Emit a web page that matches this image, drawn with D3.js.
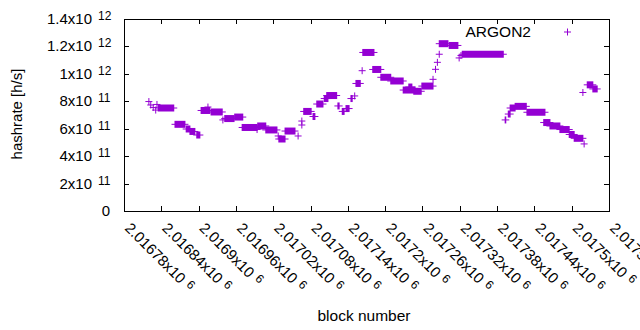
<!DOCTYPE html>
<html>
<head>
<meta charset="utf-8">
<script src="https://cdn.jsdelivr.net/npm/d3@7"></script>
<style>
  body { margin: 0; background: #fff; }
  text { font-family: "Liberation Sans", Arial, sans-serif; }
</style>
</head>
<body>
<div id="chart"></div>
<script>
// runs of blocks with the same hashrate (start block, end block, value in h/s)
const runStart = [2016820, 2016823, 2016827, 2016831, 2016833, 2016835, 2016862, 2016880, 2016886, 2016897,
  2016904, 2016915, 2016920, 2016939, 2016942, 2016958, 2016970, 2016994, 2016995, 2017008,
  2017028, 2017029, 2017039, 2017060, 2017066, 2017066, 2017069, 2017084, 2017090, 2017102,
  2017106, 2017124, 2017131, 2017137, 2017145, 2017151, 2017153, 2017163, 2017164, 2017180,
  2017193, 2017209, 2017229, 2017238, 2017246, 2017259, 2017277, 2017281, 2017284, 2017287,
  2017287, 2017303, 2017319, 2017322, 2017324, 2017393, 2017398, 2017401, 2017409, 2017428,
  2017455, 2017465, 2017481, 2017496, 2017504, 2017520, 2017518, 2017525, 2017534];
const runEnd = [2016820, 2016823, 2016827, 2016831, 2016833, 2016860, 2016878, 2016886, 2016894, 2016902,
  2016918, 2016915, 2016938, 2016939, 2016957, 2016971, 2016994, 2016994, 2017008, 2017026,
  2017028, 2017039, 2017055, 2017060, 2017066, 2017066, 2017081, 2017087, 2017100, 2017108,
  2017122, 2017126, 2017134, 2017142, 2017147, 2017151, 2017160, 2017163, 2017182, 2017193,
  2017209, 2017229, 2017248, 2017243, 2017258, 2017277, 2017277, 2017281, 2017284, 2017287,
  2017301, 2017317, 2017319, 2017322, 2017390, 2017394, 2017401, 2017409, 2017427, 2017457,
  2017465, 2017481, 2017496, 2017504, 2017518, 2017520, 2017518, 2017534, 2017541];
const runValue = [7.98e11, 7.73e11, 7.55e11, 7.36e11, 7.77e11, 7.51e11, 6.32e11, 5.98e11, 5.80e11, 5.54e11,
  7.33e11, 7.58e11, 7.22e11, 6.64e11, 6.74e11, 6.85e11, 6.09e11, 5.94e11, 6.20e11, 5.91e11,
  5.47e11, 5.25e11, 5.83e11, 5.47e11, 6.27e11, 6.56e11, 7.26e11, 6.89e11, 7.80e11, 8.20e11,
  8.42e11, 7.66e11, 7.26e11, 7.47e11, 8.20e11, 8.39e11, 9.30e11, 10.23e11, 11.56e11, 10.32e11,
  9.75e11, 9.48e11, 8.82e11, 9.04e11, 8.73e11, 9.11e11, 9.60e11, 10.33e11, 10.84e11, 11.43e11,
  12.20e11, 12.07e11, 11.16e11, 11.34e11, 11.43e11, 6.64e11, 7.07e11, 7.51e11, 7.63e11, 7.20e11,
  6.45e11, 6.20e11, 5.94e11, 5.58e11, 5.30e11, 4.89e11, 8.64e11, 9.20e11, 8.90e11];

const xTickValues = [2016780, 2016840, 2016900, 2016960, 2017020, 2017080, 2017140,
  2017200, 2017260, 2017320, 2017380, 2017440, 2017500, 2017560];
const xTickLabels = ['2.01678', '2.01684', '2.0169', '2.01696', '2.01702', '2.01708', '2.01714',
  '2.0172', '2.01726', '2.01732', '2.01738', '2.01744', '2.0175', '2.01756'];
const yTickValues = [0, 2e11, 4e11, 6e11, 8e11, 1e12, 1.2e12, 1.4e12];
const yTickMantissa = ['0', '2', '4', '6', '8', '1', '1.2', '1.4'];
const yTickExp = ['', '11', '11', '11', '11', '12', '12', '12'];
const seriesName = 'ARGON2';

const width = 640, height = 330;
const margin = { top: 19, right: 31, bottom: 119, left: 124 };
const color = '#9400d3';
const ps = 3.5; // half size of the + marker

const svg = d3.select('#chart').append('svg')
  .attr('width', width)
  .attr('height', height);

const x = d3.scaleLinear()
  .domain([2016780, 2017560])
  .range([margin.left, width - margin.right]);

const y = d3.scaleLinear()
  .domain([0, 1.4e12])
  .range([height - margin.bottom, margin.top]);

const tick = 5;

// tick marks, mirrored on all four sides
const ticks = svg.append('g').attr('stroke', '#000').attr('stroke-width', 1)
  .attr('shape-rendering', 'crispEdges');
yTickValues.forEach(v => {
  const yy = Math.round(y(v)) + 0.5;
  ticks.append('line').attr('x1', x.range()[0]).attr('x2', x.range()[0] + tick).attr('y1', yy).attr('y2', yy);
  ticks.append('line').attr('x1', x.range()[1]).attr('x2', x.range()[1] - tick).attr('y1', yy).attr('y2', yy);
});
xTickValues.forEach(v => {
  const xx = Math.round(x(v)) + 0.5;
  ticks.append('line').attr('x1', xx).attr('x2', xx).attr('y1', y.range()[0]).attr('y2', y.range()[0] - tick);
  ticks.append('line').attr('x1', xx).attr('x2', xx).attr('y1', y.range()[1]).attr('y2', y.range()[1] + tick);
});

// border
svg.append('rect')
  .attr('x', x.range()[0] + 0.5)
  .attr('y', y.range()[1] + 0.5)
  .attr('width', x.range()[1] - x.range()[0])
  .attr('height', y.range()[0] - y.range()[1])
  .attr('fill', 'none')
  .attr('stroke', '#000')
  .attr('shape-rendering', 'crispEdges');

// y tick labels
yTickValues.forEach((v, i) => {
  if (yTickExp[i] === '') {
    svg.append('text')
      .attr('x', 110).attr('y', y(v) + 5)
      .attr('text-anchor', 'end')
      .attr('font-size', '15px').attr('fill', '#000')
      .text(yTickMantissa[i]);
    return;
  }
  svg.append('text')
    .attr('x', 92).attr('y', y(v) + 5)
    .attr('text-anchor', 'end')
    .attr('font-size', '15px').attr('fill', '#000')
    .text(yTickMantissa[i] + 'x10');
  svg.append('text')
    .attr('x', 98).attr('y', y(v) + 1)
    .attr('font-size', '12px').attr('fill', '#000')
    .text(yTickExp[i]);
});

// x tick labels, rotated
xTickValues.forEach((v, i) => {
  const t = svg.append('text')
    .attr('transform', `translate(${x(v)},${229}) rotate(45)`)
    .attr('font-size', '15px').attr('fill', '#000');
  t.append('tspan').text(xTickLabels[i] + 'x10');
  t.append('tspan').attr('dx', 5).attr('dy', -4).attr('font-size', '12px').text('6');
});

// axis titles
svg.append('text')
  .attr('transform', `translate(${22},${114}) rotate(-90)`)
  .attr('text-anchor', 'middle')
  .attr('font-size', '15px').attr('fill', '#000')
  .text('hashrate [h/s]');

svg.append('text')
  .attr('x', 364).attr('y', 321)
  .attr('text-anchor', 'middle')
  .attr('font-size', '15.5px').attr('fill', '#000')
  .text('block number');

// data: each run of + markers
const runs = runStart.map((s, i) => ({ s, e: runEnd[i], v: runValue[i] }));

const g = svg.append('g');
g.selectAll('rect.run')
  .data(runs)
  .join('rect')
  .attr('class', 'run')
  .attr('x', d => x(d.s) - 0.5)
  .attr('width', d => x(d.e) - x(d.s) + 1)
  .attr('y', d => y(d.v) - ps)
  .attr('height', ps * 2)
  .attr('fill', color);

g.selectAll('path.arm')
  .data(runs)
  .join('path')
  .attr('class', 'arm')
  .attr('d', d => `M${x(d.s) - ps},${y(d.v)}H${x(d.e) + ps}`)
  .attr('stroke', color)
  .attr('stroke-width', 1)
  .attr('fill', 'none');

// legend
svg.append('text')
  .attr('x', 531).attr('y', 37)
  .attr('text-anchor', 'end')
  .attr('font-size', '15.5px').attr('fill', '#000')
  .text(seriesName);

svg.append('path')
  .attr('d', `M${567.5 - ps},32H${567.5 + ps}M567.5,${32 - ps}V${32 + ps}`)
  .attr('stroke', color)
  .attr('stroke-width', 1)
  .attr('fill', 'none');
</script>
</body>
</html>
